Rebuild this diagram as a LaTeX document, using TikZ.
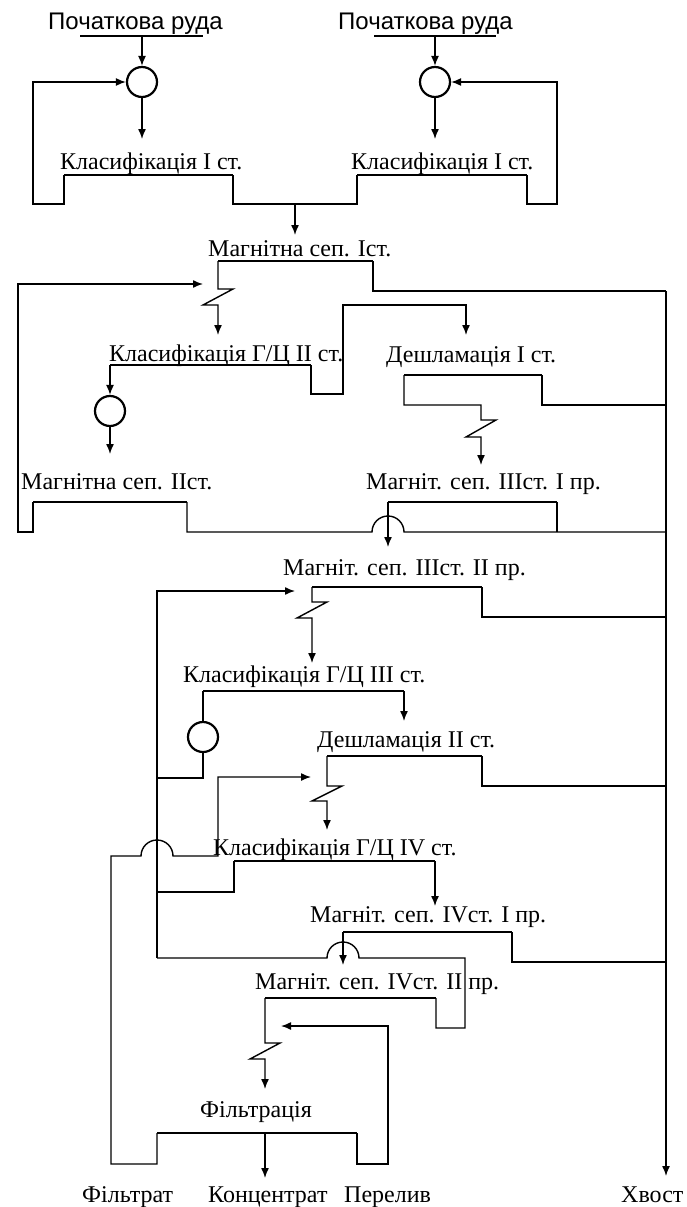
\documentclass[tikz,border=0pt]{standalone}
\usepackage{fontspec}
\setmainfont{Liberation Serif}
\newfontfamily\feedfont{Liberation Sans}
\usetikzlibrary{arrows.meta}

\begin{document}
\begin{tikzpicture}[
  x = 1pt, y = -1pt,
  flow/.style  = {line width=1.4pt},
  arr/.style   = {flow, -{Latex[length=10pt, width=8pt]}},
  bar/.style   = {line width=2.8pt},
  mixer/.style = {draw, circle, line width=2.2pt, minimum size=30pt, inner sep=0pt},
  lbl/.style   = {anchor=base west, inner sep=0pt, font=\fontsize{24}{28}\selectfont},
  feed/.style  = {lbl, font=\feedfont\fontsize{24}{28}\selectfont},
]
\useasboundingbox (0,0) rectangle (686,1207);

\node[feed]  (oreL)     at (48,30)    {Початкова руда};
\node[feed]  (oreR)     at (338,30)   {Початкова руда};
\node[mixer] (mixL)     at (142,82)   {};
\node[mixer] (mixR)     at (435,82)   {};
\node[lbl]   (clsL)     at (60,169)   {Класифікація I ст.};
\node[lbl]   (clsR)     at (351,169)  {Класифікація I ст.};
\node[lbl]   (msI)      at (208,256)  {Магнітна сеп. Iст.};
\node[lbl]   (clsII)    at (109,361)  {Класифікація Г/Ц II ст.};
\node[lbl]   (deshI)    at (386,362)  {Дешламація I ст.};
\node[mixer] (mixII)    at (110,411)  {};
\node[lbl]   (msII)     at (21,489)   {Магнітна сеп. IIст.};
\node[lbl]   (msIIIa)   at (366,489)  {Магніт. сеп. IIIст. I пр.};
\node[lbl]   (msIIIb)   at (283,575)  {Магніт. сеп. IIIст. II пр.};
\node[lbl]   (clsIII)   at (183,682)  {Класифікація Г/Ц III ст.};
\node[mixer] (mixIII)   at (203,737)  {};
\node[lbl]   (deshII)   at (317,747)  {Дешламація II ст.};
\node[lbl]   (clsIV)    at (213,855)  {Класифікація Г/Ц IV ст.};
\node[lbl]   (msIVa)    at (310,922)  {Магніт. сеп. IVст. I пр.};
\node[lbl]   (msIVb)    at (255,989)  {Магніт. сеп. IVст. II пр.};
\node[lbl]   (filt)     at (200,1117) {Фільтрація};
\node[lbl]   (filtrate) at (82,1202)  {Фільтрат};
\node[lbl]   (conc)     at (208,1202) {Концентрат};
\node[lbl]   (over)     at (344,1202) {Перелив};
\node[lbl]   (tails)    at (621,1202) {Хвост};

% bars of the apparatus
\foreach \xa/\xb/\yy in {80/203/36, 374/496/36, 64/233/175, 357/527/175,
    218/373/261, 110/311/365, 404/542/375, 33/187/502, 388/557/502,
    312/482/587, 203/404/691, 327/482/756, 234/435/861, 343/512/932,
    265/436/998, 157/357/1133}
  \draw[bar] (\xa,\yy) -- (\xb,\yy);

% tails into the common line
\foreach \xa/\ya in {373/261, 542/375, 482/587, 482/756, 512/932}
  \draw[flow] (\xa,\ya) -- ++(0,30) -- (666,\ya+30);
\draw[arr] (666,291) -- (666,1176);

\draw[arr] (142,36) -- (mixL);
\draw[arr] (435,36) -- (mixR);
\draw[arr] (mixL) -- (142,139);
\draw[arr] (mixR) -- (435,139);
\draw[arr] (64,175) -- (64,204) -- (33,204) |- (mixL.west);
\draw[arr] (527,175) -- (527,204) -- (557,204) |- (mixR.east);
\draw[flow] (233,175) -- (233,204) -- (357,204) -- (357,175);
\draw[arr] (295,204) -- (295,235);

\draw[arr] (218,261) -- (218,289) -- ++(15,0) -- ++(-30,16) -- ++(15,0) -- (218,335);
\draw[arr] (33,502) -- (33,532) -- (18,532) -- (18,284) -- (203,284);
\draw[arr] (110,365) -- (mixII);
\draw[arr] (mixII) -- (110,454);
\draw[arr] (311,365) -- (311,394) -- (343,394) -- (343,305) -- (466,305) -- (466,335);
\draw[arr] (404,375) -- (404,405) -- (481,405) -- (481,420) -- ++(15,0) -- ++(-30,17) -- ++(15,0) -- (481,465);

\draw[flow] (187,502) -- (187,532) -- (372,532) arc[start angle=180, end angle=360, radius=16] -- (666,532);
\draw[flow] (557,502) -- (557,532);
\draw[arr] (388,502) -- (388,547);

\draw[arr] (312,587) -- (312,602) -- ++(15,0) -- ++(-30,16) -- ++(15,0) -- (312,663);
\draw[arr] (157,958) -- (157,591) -- (295,591);
\draw[flow] (203,691) -- (mixIII);
\draw[flow] (mixIII) -- (203,778) -- (157,778);
\draw[arr] (404,691) -- (404,721);

\draw[arr] (327,756) -- (327,786) -- ++(15,0) -- ++(-30,15) -- ++(15,0) -- (327,830);
\draw[flow] (234,861) -- (234,892) -- (157,892);
\draw[arr] (435,861) -- (435,906);
\draw[arr] (343,932) -- (343,965);

\draw[flow] (436,998) -- (436,1028) -- (465,1028) -- (465,958) -- (359,958)
  arc[start angle=0, end angle=-180, radius=16] -- (157,958);
\draw[arr] (265,998) -- (265,1043) -- ++(15,0) -- ++(-30,16) -- ++(15,0) -- (265,1089);
\draw[arr] (357,1133) -- (357,1164) -- (388,1164) -- (388,1026) -- (281,1026);

\draw[arr] (157,1133) -- (157,1164) -- (111,1164) -- (111,856) -- (141,856)
  arc[start angle=180, end angle=360, radius=16] -- (218,856) -- (218,777) -- (311,777);
\draw[arr] (265,1133) -- (265,1178);
\end{tikzpicture}
\end{document}
